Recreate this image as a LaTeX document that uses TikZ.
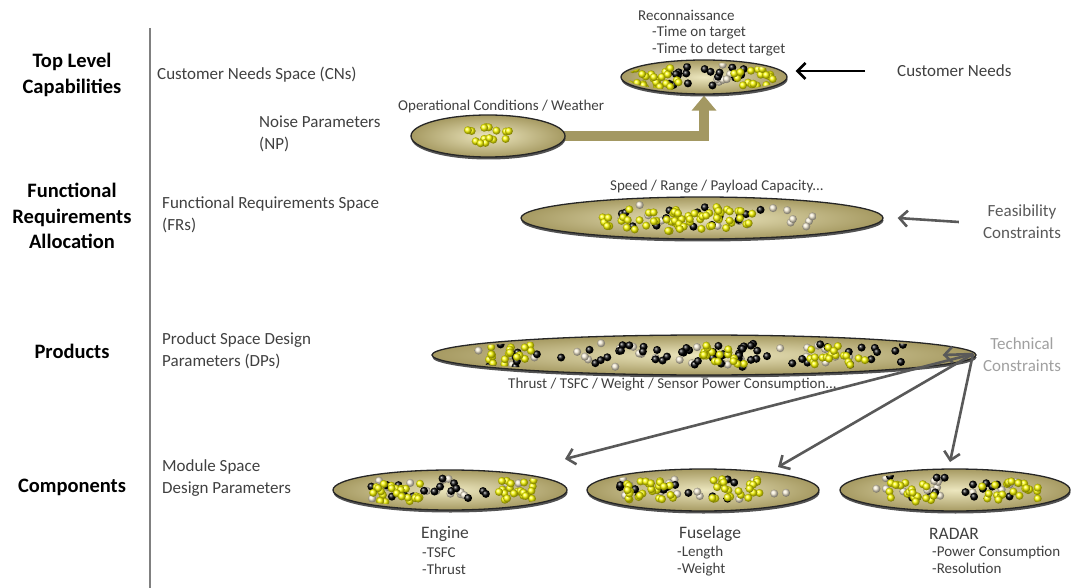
\documentclass[tikz,border=0pt]{standalone}
\usepackage{fontspec}
\setmainfont{Carlito}
\usetikzlibrary{shapes.geometric,arrows.meta,shadows}
\pgfdeclarelayer{background}
\pgfsetlayers{background,main}
\definecolor{khakiin}{RGB}{236,230,190}
\definecolor{khakiout}{RGB}{166,154,98}
\definecolor{txt}{RGB}{64,64,64}
\definecolor{feasc}{RGB}{89,89,89}
\definecolor{techc}{RGB}{160,160,160}
\definecolor{arrowk}{RGB}{163,152,98}
\definecolor{cream}{RGB}{245,236,212}
\newcommand\ballcloud[6]{%
  \foreach \k in {1,...,#5}{%
    \pgfmathsetmacro\bx{#1+#3*rand}%
    \pgfmathsetmacro\by{#2+#4*rand}%
    \shade[ball color=#6] (\bx,\by) circle[radius=4pt];}}
\tikzset{
  space/.style={ellipse, draw=black!85, line width=1.3pt, inner color=khakiin,
    outer color=khakiout, inner sep=0pt,
    drop shadow={shadow xshift=0.5pt, shadow yshift=-2.5pt, fill=black!75, opacity=0.9}},
  hdr/.style={font=\fontsize{20.5}{25.5}\selectfont\bfseries, align=center, inner sep=0pt},
  lbl/.style={font=\fontsize{17}{22}\selectfont, text=txt, align=left, anchor=west, inner sep=0pt},
  sml/.style={font=\fontsize{15}{17.5}\selectfont, text=txt, align=left, anchor=west, inner sep=0pt},
  comp/.style={font=\fontsize{17.5}{21}\selectfont, text=txt, inner sep=0pt},
  barr/.style={draw=black, line width=2.6pt, -{Straight Barb[length=8pt,width=16pt]}},
  garr/.style={draw=feasc, line width=2.6pt, -{Straight Barb[length=8pt,width=16pt]}},
  fatarr/.style={draw=arrowk, line width=10pt, -{Triangle[length=15pt,width=24pt]}}
}
\begin{document}
\begin{tikzpicture}[x=1pt,y=-1pt]
\useasboundingbox (0,0) rectangle (1071,588);
\pgfmathsetseed{4242}
% left divider
\draw[gray, line width=1.4pt] (150,28) -- (150,588);
% row headers
\node[hdr] (h1) at (72,75) {Top Level\\Capabilities};
\node[hdr] (h2) at (72,216) {Functional\\Requirements\\Allocation};
\node[hdr] (h3) at (72,351) {Products};
\node[hdr] (h4) at (72,487) {Components};
% row labels
\node[lbl] (cnlbl) at (157,75) {Customer Needs Space (CNs)};
\node[lbl] (nplbl) at (259,134) {Noise Parameters\\(NP)};
\node[lbl] (frlbl) at (162,215) {Functional Requirements Space\\(FRs)};
\node[lbl] (dplbl) at (162,351) {Product Space Design\\Parameters (DPs)};
\node[lbl] (mslbl) at (162,478) {Module Space\\Design Parameters};
% ellipses
\node[space, minimum width=166pt, minimum height=34pt] (cn) at (704,77) {};
\node[space, minimum width=154pt, minimum height=42pt] (np) at (488,136) {};
\node[space, minimum width=362pt, minimum height=42pt] (fr) at (702,218) {};
\node[space, minimum width=544pt, minimum height=40pt] (dp) at (704,355) {};
\node[space, minimum width=234pt, minimum height=40pt] (eng) at (450,490) {};
\node[space, minimum width=232pt, minimum height=42pt] (fus) at (703,490) {};
\node[space, minimum width=230pt, minimum height=42pt] (rad) at (955,490) {};
% dots
\begin{scope}
  \clip (704,77) ellipse[x radius=79, y radius=14];
  \ballcloud{705}{75}{45}{11}{9}{cream}
  \ballcloud{705}{77}{40}{11}{20}{black}
  \ballcloud{655}{78}{26}{10}{26}{yellow}
  \ballcloud{755}{77}{21}{9}{20}{yellow}
\end{scope}
\begin{scope}
  \ballcloud{487}{135}{22}{9}{15}{yellow}
\end{scope}
\begin{scope}
  \clip (702,218) ellipse[x radius=176, y radius=18];
  \ballcloud{700}{216}{85}{11}{9}{cream}
  \ballcloud{800}{218}{14}{9}{6}{cream}
  \ballcloud{690}{218}{75}{11}{16}{black}
  \ballcloud{640}{220}{40}{11}{28}{yellow}
  \ballcloud{702}{220}{30}{11}{26}{yellow}
  \ballcloud{735}{216}{20}{10}{12}{yellow}
\end{scope}
\begin{scope}
  \clip (704,355) ellipse[x radius=266, y radius=17];
  \ballcloud{660}{355}{190}{12}{30}{cream}
  \ballcloud{620}{355}{140}{12}{40}{black}
  \ballcloud{810}{355}{100}{11}{24}{black}
  \ballcloud{510}{355}{22}{10}{18}{yellow}
  \ballcloud{722}{355}{25}{10}{18}{yellow}
  \ballcloud{838}{355}{28}{10}{20}{yellow}
\end{scope}
\begin{scope}
  \clip (450,490) ellipse[x radius=111, y radius=17];
  \ballcloud{450}{488}{85}{11}{15}{cream}
  \ballcloud{450}{488}{80}{11}{18}{black}
  \ballcloud{395}{492}{26}{10}{24}{yellow}
  \ballcloud{520}{490}{23}{10}{22}{yellow}
\end{scope}
\begin{scope}
  \clip (703,490) ellipse[x radius=110, y radius=18];
  \ballcloud{710}{488}{90}{11}{13}{cream}
  \ballcloud{700}{488}{80}{11}{13}{black}
  \ballcloud{650}{490}{28}{10}{26}{yellow}
  \ballcloud{735}{489}{25}{10}{22}{yellow}
\end{scope}
\begin{scope}
  \clip (955,490) ellipse[x radius=109, y radius=18];
  \ballcloud{955}{487}{85}{11}{15}{cream}
  \ballcloud{955}{487}{75}{11}{15}{black}
  \ballcloud{910}{492}{26}{10}{20}{yellow}
  \ballcloud{1010}{490}{28}{10}{24}{yellow}
\end{scope}
% small labels
\node[sml] (rec) at (638,15) {Reconnaissance};
\node[sml] (rec2) at (652,41) {-Time on target\\-Time to detect target};
\node[sml] (opc) at (398,107) {Operational Conditions / Weather};
\node[sml] (spd) at (610,187) {Speed / Range / Payload Capacity...};
\node[sml] (thr) at (508,385) {Thrust / TSFC / Weight / Sensor Power Consumption...};
% right labels
\node[lbl] (cneeds) at (897,71) {Customer Needs};
\node[lbl, align=center, anchor=center, text=feasc] (feas) at (1022,222) {Feasibility\\Constraints};
\node[lbl, align=center, anchor=center, text=techc] (tech) at (1022,355) {Technical\\Constraints};
% component labels
\node[comp] (engt) at (445,534) {Engine};
\node[sml] (engs) at (422,561) {-TSFC\\-Thrust};
\node[comp] (fust) at (710,534) {Fuselage};
\node[sml] (fuss) at (677,561) {-Length\\-Weight};
\node[comp, anchor=west] (radt) at (929,534) {RADAR};
\node[sml] (rads) at (932,560) {-Power Consumption\\-Resolution};
% connectors
\begin{pgfonlayer}{background}
  \draw[fatarr] ([xshift=-6pt]np.east) -| ([yshift=-1pt]cn.south);
\end{pgfonlayer}
\draw[barr] ([xshift=-32pt]cneeds.west) -- ([xshift=8pt]cn.east |- cneeds.west);
\draw[garr] ([xshift=-24pt]feas.west) -- ([xshift=14pt]fr.east);
\coordinate (tc) at (973,354);
\coordinate (te) at (565,459);
\coordinate (tf) at (778,467);
\coordinate (tr) at (950,462);
\draw[garr] (tc) -- ([xshift=-34pt]dp.east);
\draw[garr] (tc) -- (te);
\draw[garr] (tc) -- (tf);
\draw[garr] (tc) -- (tr);
\end{tikzpicture}
\end{document}
